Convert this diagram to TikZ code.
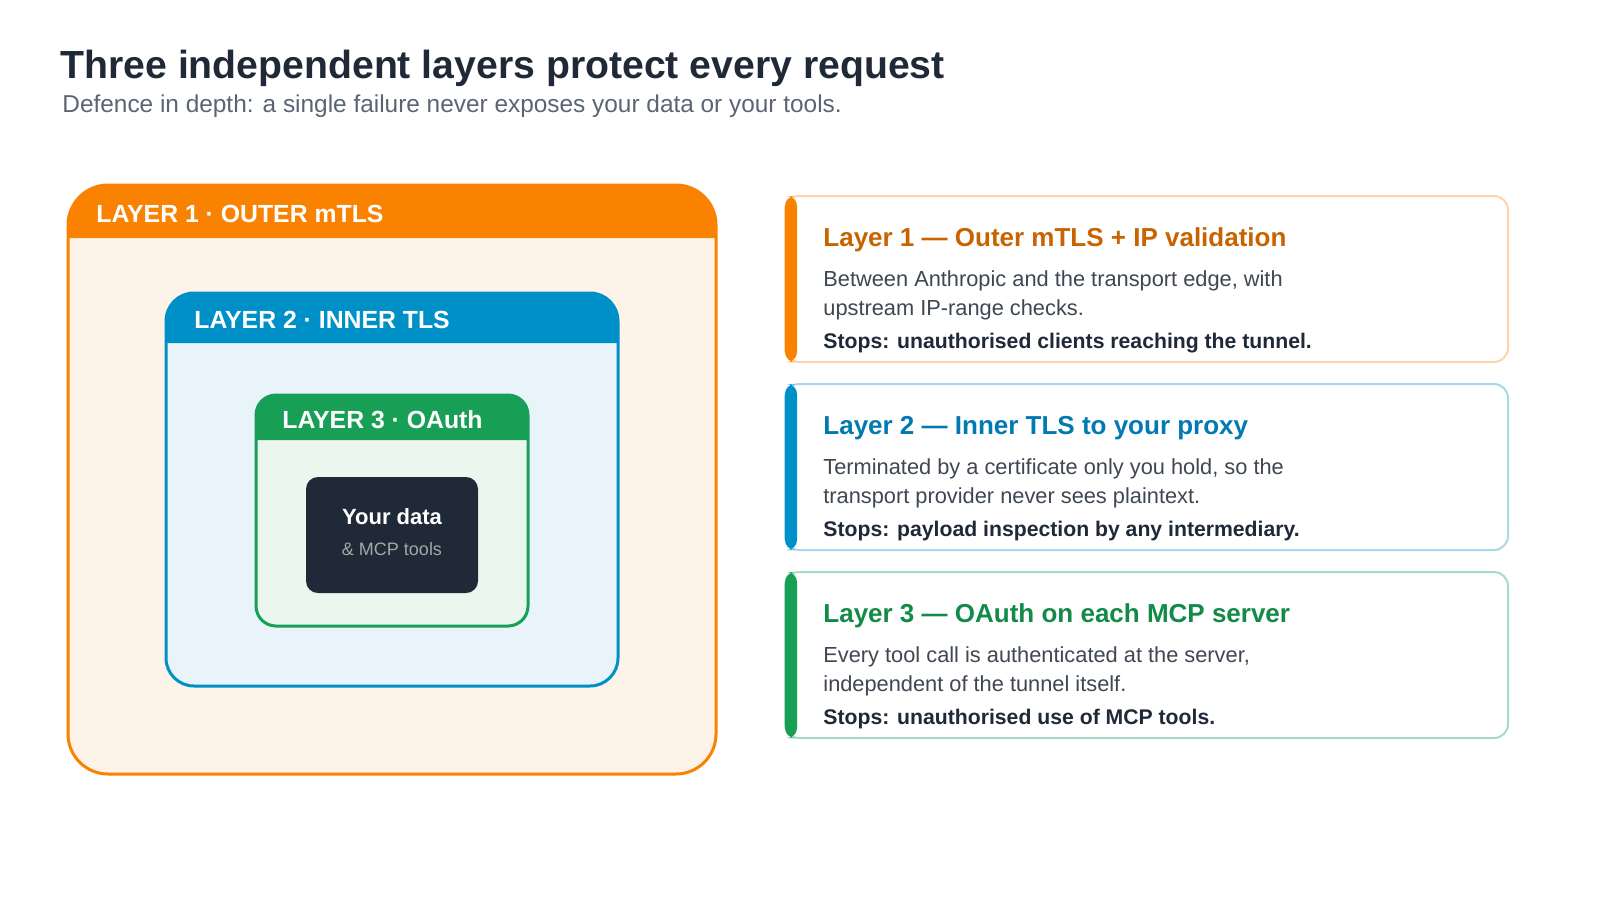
\documentclass[tikz,border=0pt]{standalone}
\usepackage{fontspec}
\setmainfont{Liberation Sans}
\definecolor{ink}{HTML}{1F2937}
\definecolor{subgray}{HTML}{5B6473}
\definecolor{bodygray}{HTML}{3F4753}
\definecolor{orangeA}{HTML}{F98200}
\definecolor{orangeF}{HTML}{FEF3E8}
\definecolor{orangeT}{HTML}{C86400}
\definecolor{orangeB}{HTML}{FCD5A8}
\definecolor{blueA}{HTML}{0090C8}
\definecolor{blueF}{HTML}{E8F4FA}
\definecolor{blueT}{HTML}{007AB0}
\definecolor{blueB}{HTML}{A8D8EC}
\definecolor{greenA}{HTML}{17A055}
\definecolor{greenF}{HTML}{EAF6EE}
\definecolor{greenT}{HTML}{138A48}
\definecolor{greenB}{HTML}{A8DCC0}
\tikzset{
  txt/.style={anchor=base west, inner sep=0pt},
  tag/.style={txt, text=white, font=\fontsize{12.4}{14}\selectfont\bfseries},
  ctitle/.style={txt, font=\fontsize{13}{15}\selectfont\bfseries},
  cbody/.style={txt, text=bodygray, font=\fontsize{10.9}{13}\selectfont},
  cstop/.style={txt, text=ink, font=\fontsize{10.6}{13}\selectfont\bfseries}
}
\begin{document}
\begin{tikzpicture}[x=0.5pt, y=-0.5pt]
\useasboundingbox (0,0) rectangle (1600,900);

% heading
\node[txt, text=ink, font=\fontsize{19.6}{24}\selectfont\bfseries] (title) at (60,78) {Three independent layers protect every request};
\node[txt, text=subgray, font=\fontsize{12.2}{14}\selectfont] (subtitle) at (62,112) {Defence in depth: a single failure never exposes your data or your tools.};

% layer 1
\fill[orangeF, rounded corners=20pt] (68,185) rectangle (716,774);
\fill[orangeA] (68,238) [rounded corners=20pt] -- (68,185) -- (716,185) [sharp corners] -- (716,238) -- cycle;
\draw[orangeA, line width=1.5pt, rounded corners=20pt] (68,185) rectangle (716,774);
\node[tag] (tag1) at (96,222) {LAYER 1 · OUTER mTLS};

% layer 2
\fill[blueF, rounded corners=14pt] (166,293) rectangle (618,686);
\fill[blueA] (166,343) [rounded corners=14pt] -- (166,293) -- (618,293) [sharp corners] -- (618,343) -- cycle;
\draw[blueA, line width=1.5pt, rounded corners=14pt] (166,293) rectangle (618,686);
\node[tag] (tag2) at (194,328) {LAYER 2 · INNER TLS};

% layer 3
\fill[greenF, rounded corners=10pt] (256,395) rectangle (528,626);
\fill[greenA] (256,440) [rounded corners=10pt] -- (256,395) -- (528,395) [sharp corners] -- (528,440) -- cycle;
\draw[greenA, line width=1.5pt, rounded corners=10pt] (256,395) rectangle (528,626);
\node[tag] (tag3) at (282,428) {LAYER 3 · OAuth};

% core
\fill[ink, rounded corners=6pt] (306,477) rectangle (478,593);
\node[text=white, font=\fontsize{11}{13}\selectfont\bfseries, anchor=base] (core) at (392,524) {Your data};
\node[text=gray!70, font=\fontsize{9}{11}\selectfont, anchor=base] (coresub) at (392,555) {\& MCP tools};

% cards
\foreach \y/\c/\t/\a/\b/\s in {
  196/orange/{Layer 1 — Outer mTLS + IP validation}/{Between Anthropic and the transport edge, with}/{upstream IP-range checks.}/{Stops: unauthorised clients reaching the tunnel.},
  384/blue/{Layer 2 — Inner TLS to your proxy}/{Terminated by a certificate only you hold, so the}/{transport provider never sees plaintext.}/{Stops: payload inspection by any intermediary.},
  572/green/{Layer 3 — OAuth on each MCP server}/{Every tool call is authenticated at the server,}/{independent of the tunnel itself.}/{Stops: unauthorised use of MCP tools.}}{
  \fill[white, rounded corners=7pt] (785,\y) rectangle (1508,\y+166);
  \draw[\c B, line width=1pt, rounded corners=7pt] (785,\y) rectangle (1508,\y+166);
  \fill[\c A, rounded corners=5pt] (785,\y) rectangle (797,\y+166);
  \node[ctitle, text=\c T] at (823,\y+50) {\t};
  \node[cbody] at (823,\y+90) {\a};
  \node[cbody] at (823,\y+119) {\b};
  \node[cstop] at (823,\y+152) {\s};
}
\end{tikzpicture}
\end{document}
